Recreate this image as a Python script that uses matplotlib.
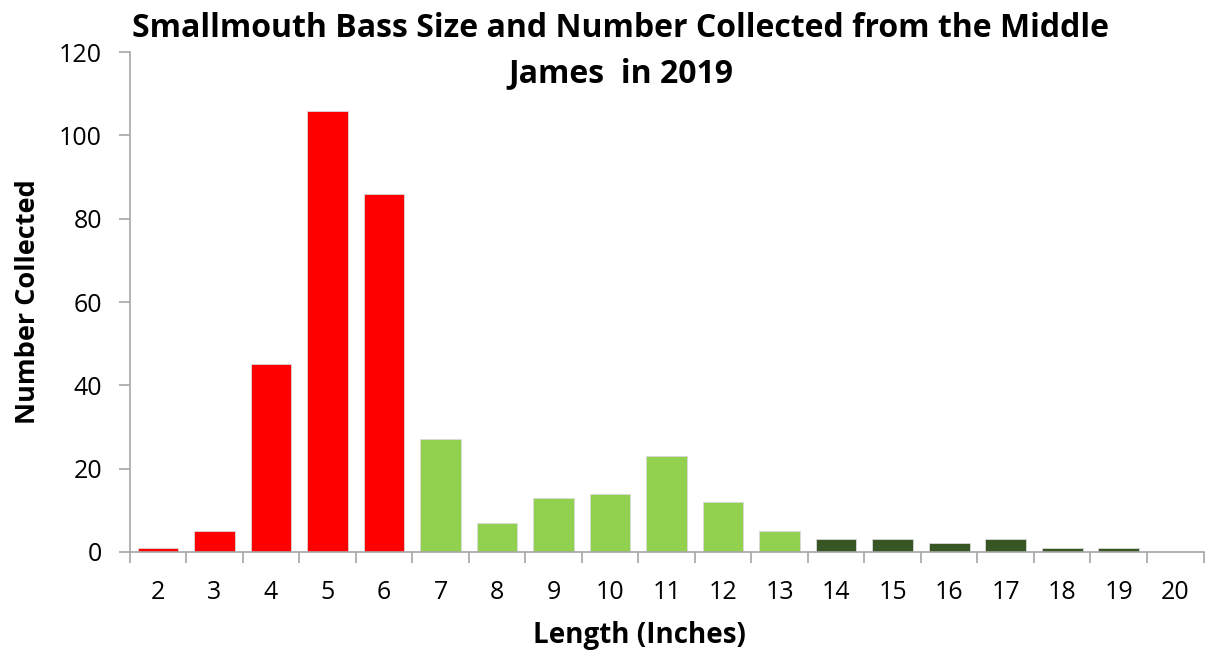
import matplotlib
matplotlib.use("Agg")
import matplotlib.pyplot as plt
import numpy as np

plt.rcParams['font.family'] = ['Open Sans', 'DejaVu Sans']

lengths = list(range(2, 21))
counts = [1, 5, 45, 106, 86, 27, 7, 13, 14, 23, 12, 5, 3, 3, 2, 3, 1, 1, 0]
# size class colours: red (2-6 in), light green (7-13 in), dark green (14+ in)
colors = ['#FF0000'] * 5 + ['#92D050'] * 7 + ['#375623'] * 7

fig = plt.figure(figsize=(12.12, 6.53), dpi=100)
ax = fig.add_axes([0.107, 0.155, 0.886, 0.765])

x = np.arange(len(lengths))
ax.bar(x, counts, width=0.72, color=colors, edgecolor='#d9d9d9', linewidth=0.6, zorder=2)

ax.set_xlim(-0.5, len(lengths) - 0.5)
ax.set_ylim(0, 120)
ax.set_yticks(np.arange(0, 121, 20))
ax.set_xticks(x)
ax.set_xticklabels([str(v) for v in lengths])
ax.set_xticks(np.arange(-0.5, len(lengths), 1), minor=True)

ax.tick_params(axis='x', which='major', length=0, labelsize=18, pad=20)
ax.tick_params(axis='x', which='minor', length=8, color='#a6a6a6', width=1.2, direction='out')
ax.tick_params(axis='y', length=8, color='#a6a6a6', width=1.2, labelsize=18, pad=12)

for side in ['top', 'right']:
    ax.spines[side].set_visible(False)
for side in ['left', 'bottom']:
    ax.spines[side].set_color('#a6a6a6')
    ax.spines[side].set_linewidth(1.2)

ax.set_xlabel('Length (Inches)', fontsize=20, fontweight='bold', labelpad=12)
ax.xaxis.label.set_x(0.475)
ax.set_ylabel('Number Collected', fontsize=19.5, fontweight='bold', labelpad=13)
fig.text(0.512, 0.982, 'Smallmouth Bass Size and Number Collected from the Middle\nJames  in 2019',
         ha='center', va='top', fontsize=23, fontweight='bold', linespacing=1.5)

fig.savefig('out.png', dpi=100)
